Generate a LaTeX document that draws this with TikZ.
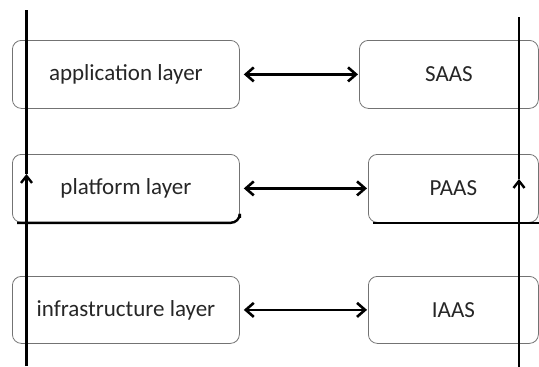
\documentclass[tikz,border=0pt]{standalone}
\usepackage{fontspec}
\setmainfont{Carlito}
\usetikzlibrary{arrows.meta}
\begin{document}
\begin{tikzpicture}[x=1pt,y=-1pt,
  layerbox/.style={draw=black!55, line width=0.8pt, rounded corners=9pt,
    anchor=north west, inner sep=0pt, font=\fontsize{23}{26}\selectfont, text=black!85},
  barb/.style={Straight Barb[length=8pt,width=14pt,line width=2.6pt]},
  link/.style={line width=2.6pt, {Straight Barb[length=8pt,width=14pt,line width=2.6pt]}-{Straight Barb[length=8pt,width=14pt,line width=2.6pt]}},
  axis/.style={line width=2.6pt},
  upto/.style={line width=2.6pt, -{Straight Barb[length=7pt,width=11pt,line width=2.4pt]}},
  base/.style={line width=2.4pt, rounded corners=9pt}]
\useasboundingbox (0,0) rectangle (539,367);

% layer boxes on the left
\node[layerbox, minimum width=227pt, minimum height=68pt] (app) at (12,40) {application layer};
\node[layerbox, minimum width=227pt, minimum height=68pt] (plat) at (12,154) {platform layer};
\node[layerbox, minimum width=227pt, minimum height=67pt] (infra) at (12,276) {infrastructure layer};

% service boxes on the right
\node[layerbox, minimum width=179pt, minimum height=68pt] (saas) at (359,40) {SAAS};
\node[layerbox, minimum width=170pt, minimum height=68pt] (paas) at (368,154) {PAAS};
\node[layerbox, minimum width=170pt, minimum height=67pt] (iaas) at (368,276) {IAAS};

% heavy lower edge of the platform row
\draw[base] ([xshift=5pt]plat.south west) -- (plat.south east) -- ([yshift=5pt]plat.south east);
\draw[base] ([xshift=5pt]paas.south west) -- (paas.south east);

% two-way links between layers and services
\draw[link] ([xshift=4pt]app.east) -- ([xshift=-1pt]saas.west);
\draw[link] ([xshift=4pt]plat.east) -- ([xshift=-1pt]paas.west);
\draw[link] ([xshift=4pt]infra.east) -- ([xshift=-1pt]iaas.west);

% vertical axes with upward arrows
\coordinate (lt) at (26.5,10);
\coordinate (lm) at (26.5,174);
\coordinate (lb) at (26.5,366);
\coordinate (rt) at (519,17);
\coordinate (rm) at (519,179);
\coordinate (rb) at (519,367);
\draw[axis] (lm) -- (lt);
\draw[upto] (lb) -- (lm);
\draw[axis] (rm) -- (rt);
\draw[upto] (rb) -- (rm);
\end{tikzpicture}
\end{document}
